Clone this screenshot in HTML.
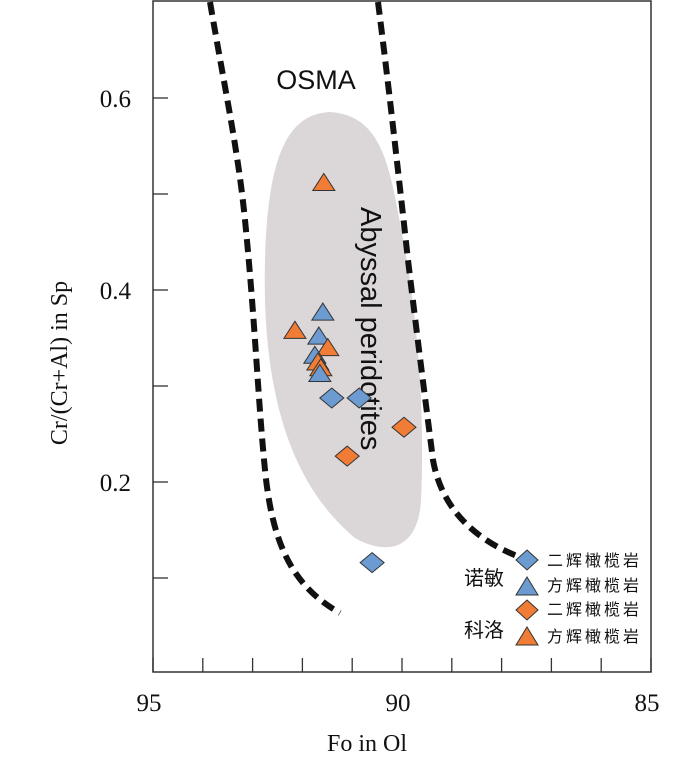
<!DOCTYPE html>
<html><head><meta charset="utf-8"><style>
body{margin:0;background:#fff;}
svg{display:block;}
text{font-family:"Liberation Sans","Noto Sans CJK SC",sans-serif;}
.serif{font-family:"Liberation Serif",serif;}
</style></head><body>
<svg width="700" height="757" viewBox="0 0 700 757">
<rect x="153" y="1" width="498" height="671" fill="none" stroke="#333" stroke-width="1.5"/>
<path d="M330 112 C290 114,268 150,265 260 C262 380,285 480,355 538 C385 555,418 552,421 500 C425 420,418 320,405 250 C390 170,385 116,330 112 Z" fill="#dbd6d8"/>
<path d="M210 2 C225 90,238 150,245 220 C255 320,258 400,265 470 C272 540,290 585,340 613" fill="none" stroke="#111" stroke-width="6" stroke-dasharray="13,7"/>
<path d="M378 2 C388 80,398 170,408 260 C420 360,428 420,433 460 C440 500,465 535,517 556" fill="none" stroke="#111" stroke-width="6" stroke-dasharray="13,7"/>
<text x="316" y="89" font-size="27" text-anchor="middle" fill="#111">OSMA</text>
<text transform="translate(361,207) rotate(90)" font-size="29" fill="#111">Abyssal peridotites</text>
<g id="axes"></g>
<g id="marks"></g>
<text class="serif" transform="translate(67,363) rotate(-90)" font-size="24" text-anchor="middle" fill="#111">Cr/(Cr+Al) in Sp</text>
<text class="serif" x="367" y="751" font-size="24" text-anchor="middle" fill="#111">Fo in Ol</text>
<g>
<text x="464" y="585" font-size="20" fill="#111">诺敏</text>
<text x="464" y="637" font-size="20" fill="#111">科洛</text>
<polygon points="527,550 538,560 527,570 516,560" fill="#6b9bd0" stroke="#333"/>
<text x="547" y="566" font-size="16" letter-spacing="3" fill="#111">二辉橄榄岩</text>
<polygon points="527,577 538,595 516,595" fill="#6b9bd0" stroke="#333"/>
<text x="547" y="591" font-size="16" letter-spacing="3" fill="#111">方辉橄榄岩</text>
<polygon points="527,600 538,610 527,620 516,610" fill="#f07c35" stroke="#333"/>
<text x="547" y="615" font-size="16" letter-spacing="3" fill="#111">二辉橄榄岩</text>
<polygon points="527,627 538,645 516,645" fill="#f07c35" stroke="#333"/>
<text x="547" y="642" font-size="16" letter-spacing="3" fill="#111">方辉橄榄岩</text>
</g>
</svg>
<script>
const xTicks=[95,94,93,92,91,90,89,88,87,86,85];
const xLabels=[95,90,85];
const yTicks=[0.1,0.2,0.3,0.4,0.5,0.6];
const yLabels=["0.2","0.4","0.6"];
const fo=[91.57,91.59,92.15,91.67,91.49,91.75,91.69,91.63,91.65,91.41,90.86,89.96,91.10,90.60];
const crn=[0.512,0.377,0.358,0.352,0.340,0.332,0.325,0.319,0.313,0.2875,0.2875,0.257,0.227,0.116];
const shape=["tri","tri","tri","tri","tri","tri","tri","tri","tri","dia","dia","dia","dia","dia"];
const group=["kl","nm","kl","nm","kl","nm","kl","kl","nm","nm","nm","kl","kl","nm"];
const X=v=>153+(95-v)*49.8;
const Y=v=>674-v*960;
const NS="http://www.w3.org/2000/svg";
const ax=document.getElementById('axes'),mk=document.getElementById('marks');
function mkEl(t,a){const e=document.createElementNS(NS,t);for(const k in a)e.setAttribute(k,a[k]);return e;}
xTicks.forEach(v=>{const e=mkEl('line',{x1:X(v),x2:X(v),y1:672,y2:658,stroke:'#333','stroke-width':1.3});

ax.appendChild(e);});
xLabels.forEach(v=>{const e=mkEl('text',{x:X(v)-4,y:711,'font-size':25,'text-anchor':'middle',fill:'#111',class:'serif'});e.textContent=v;

ax.appendChild(e);});
yTicks.forEach(v=>{const e=mkEl('line',{x1:153,x2:168,y1:Y(v),y2:Y(v),stroke:'#333','stroke-width':1.3});

ax.appendChild(e);});
yLabels.forEach(v=>{const e=mkEl('text',{x:131,y:Y(+v)+9,'font-size':25,'text-anchor':'end',fill:'#111',class:'serif'});e.textContent=v;

ax.appendChild(e);});
fo.forEach((f,i)=>{const x=X(f),y=Y(crn[i]);let pts;
if(shape[i]==='tri')pts=`${x},${y-9} ${x+11},${y+8} ${x-11},${y+8}`;else pts=`${x},${y-10} ${x+12},${y} ${x},${y+10} ${x-12},${y}`;
const e=mkEl('polygon',{points:pts,fill:group[i]==='kl'?'#f07c35':'#6b9bd0',stroke:'#333','stroke-width':1});

mk.appendChild(e);});
</script>
</body></html>
